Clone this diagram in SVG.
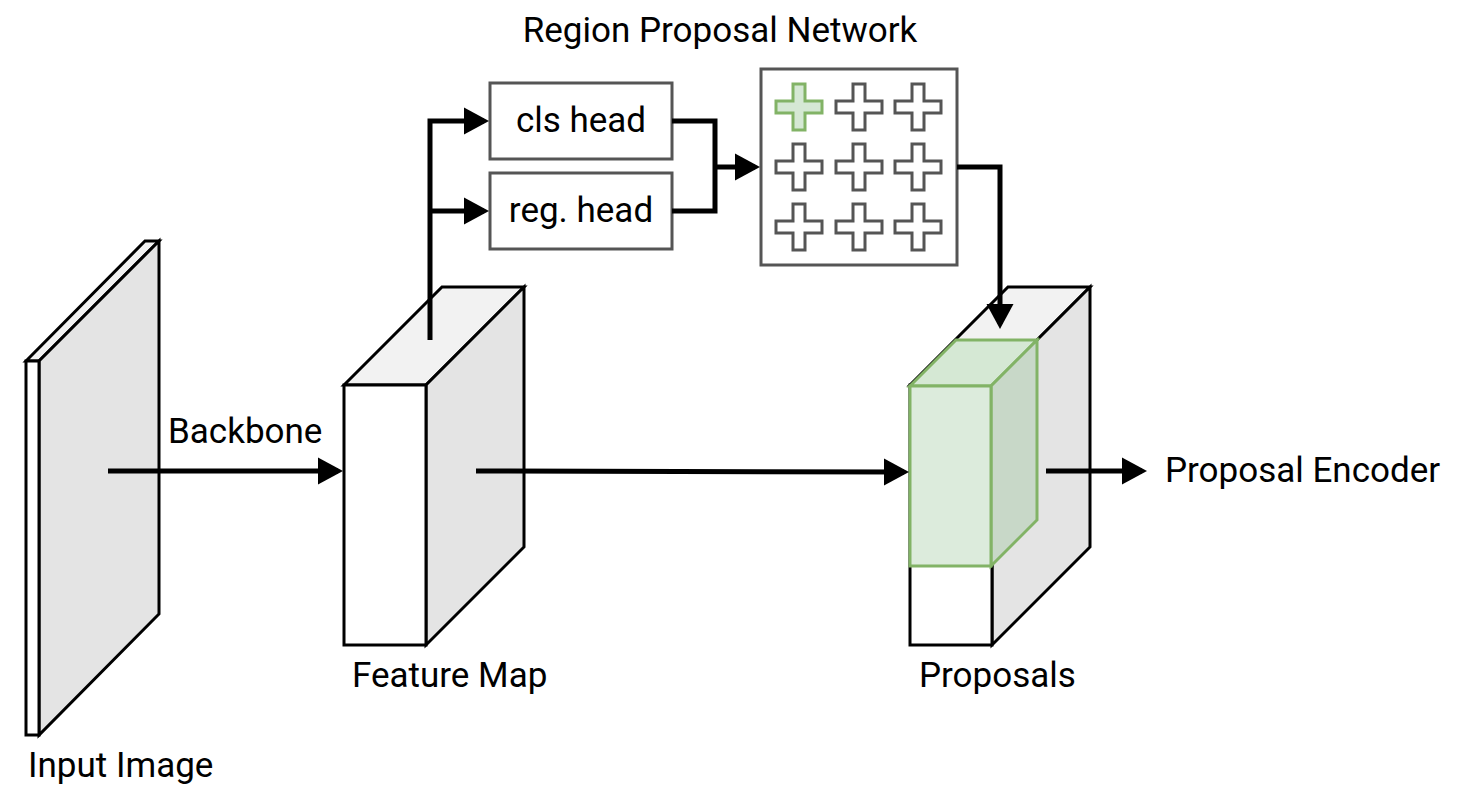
<svg xmlns="http://www.w3.org/2000/svg" width="1467" height="798" viewBox="0 0 1467 798">
<style>
text{font-family:Roboto,"Liberation Sans",sans-serif;font-size:35px;fill:#000}
.k{stroke:#000;stroke-width:3;stroke-linejoin:miter}
.c{stroke:#000;stroke-width:5;fill:none}
.cr{fill:#fff;stroke:#555;stroke-width:3}
</style>
<defs><marker id="a" markerWidth="6" markerHeight="6" refX="4" refY="3" orient="auto" markerUnits="strokeWidth"><path d="M0,0.3 L5,3 L0,5.7z" fill="#000"/></marker>
<path id="p" d="M-6,-23 H6 V-6 H23 V6 H6 V23 H-6 V6 H-23 V-6 H-6Z"/></defs>
<rect width="1467" height="798" fill="#fff"/>
<g id="input-image">
<polygon class="k" points="26,361 145,241 159,241 39,361" fill="#f2f2f2"/>
<polygon class="k" points="39,361 159,241 159,614 39,735" fill="#e4e4e4"/>
<rect class="k" x="26" y="361" width="13" height="374" fill="#fff"/>
<text x="28" y="777">Input Image</text>
</g>
<g id="feature-map">
<polygon class="k" points="344,385 442,287 524,287 426,385" fill="#f2f2f2"/>
<polygon class="k" points="426,385 524,287 524,547 426,645" fill="#e4e4e4"/>
<rect class="k" x="344" y="385" width="82" height="260" fill="#fff"/>
<text x="352" y="687">Feature Map</text>
</g>
<g id="proposals">
<polygon class="k" points="910,385 1008,287 1090,287 992,385" fill="#f2f2f2"/>
<polygon class="k" points="992,385 1090,287 1090,547 992,645" fill="#e4e4e4"/>
<rect class="k" x="910" y="385" width="82" height="260" fill="#fff"/>
<g stroke="#82b366" stroke-width="3">
<polygon points="910,386 956,340 1037,340 991,386" fill="#d5e8d4"/>
<polygon points="991,386 1037,340 1037,520 991,566" fill="#c8d8c8"/>
<rect x="910" y="386" width="81" height="180" fill="#dcebdc"/>
</g>
<text x="919" y="687">Proposals</text>
</g>
<g id="cls-head"><rect x="490" y="83" width="182" height="76" fill="#fff" stroke="#555" stroke-width="3"/><text x="581" y="132" text-anchor="middle">cls head</text></g>
<g id="reg-head"><rect x="490" y="173" width="182" height="76" fill="#fff" stroke="#555" stroke-width="3"/><text x="581" y="222" text-anchor="middle">reg. head</text></g>
<g id="rpn-grid">
<text x="720" y="42" text-anchor="middle">Region Proposal Network</text>
<rect x="761" y="69" width="196" height="196" fill="#fff" stroke="#555" stroke-width="3"/>
<use href="#p" x="799" y="107" fill="#d5e8d4" stroke="#82b366" stroke-width="3"/>
<use href="#p" x="859" y="107" class="cr"/><use href="#p" x="918" y="107" class="cr"/>
<use href="#p" x="799" y="167" class="cr"/><use href="#p" x="859" y="167" class="cr"/><use href="#p" x="918" y="167" class="cr"/>
<use href="#p" x="799" y="227" class="cr"/><use href="#p" x="859" y="227" class="cr"/><use href="#p" x="918" y="227" class="cr"/>
</g>
<g id="connectors">
<path class="c" d="M108,471 H338" marker-end="url(#a)"/>
<text x="168" y="443">Backbone</text>
<path class="c" d="M476,471 L904,472" marker-end="url(#a)"/>
<path class="c" d="M1046,471 H1142" marker-end="url(#a)"/>
<text x="1165" y="482">Proposal Encoder</text>
<path class="c" d="M430,340 V121 H484" marker-end="url(#a)"/>
<path class="c" d="M430,211 H484" marker-end="url(#a)"/>
<path class="c" d="M672,121 H715 V211 H672"/>
<path class="c" d="M715,167 H755" marker-end="url(#a)"/>
<path class="c" d="M957,167 H1000 V324" marker-end="url(#a)"/>
</g>
</svg>
